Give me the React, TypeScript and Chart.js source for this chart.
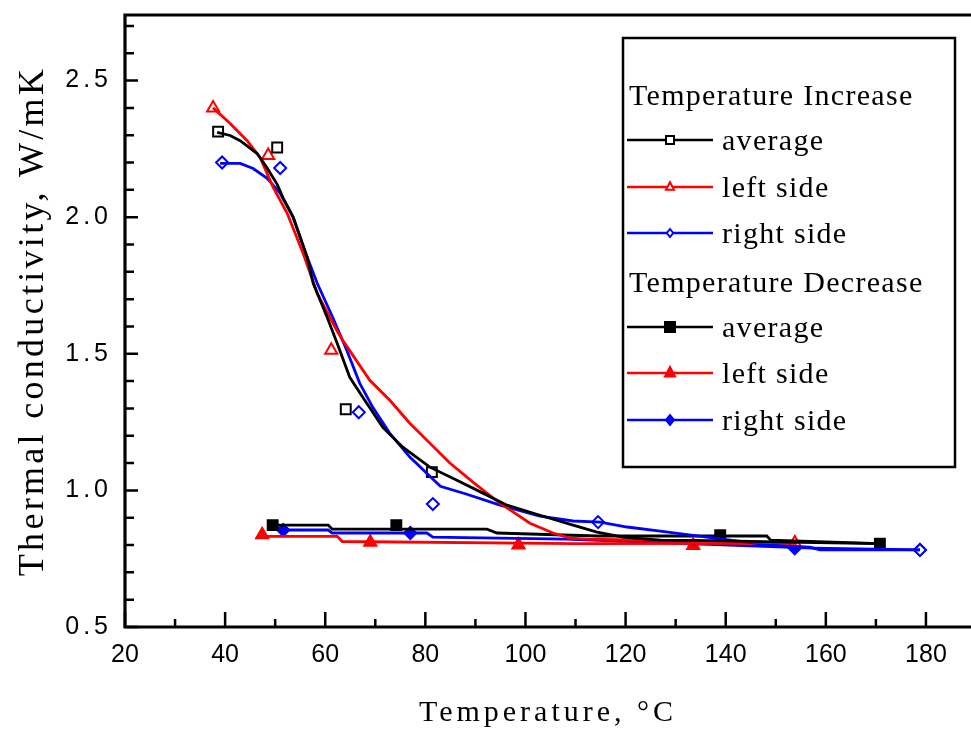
import React, { useEffect, useRef } from 'react';
import { Chart, registerables } from 'chart.js';

Chart.register(...registerables);

// ---------- axis ticks ----------
const xTickValues = [20, 40, 60, 80, 100, 120, 140, 160, 180];
const xMinorTickValues = [30, 50, 70, 90, 110, 130, 150, 170];
const yTickValues = [0.5, 1.0, 1.5, 2.0, 2.5];
const yMinorTickValues = [0.6, 0.7, 0.8, 0.9, 1.1, 1.2, 1.3, 1.4, 1.6, 1.7, 1.8, 1.9, 2.1, 2.2, 2.3, 2.4, 2.6, 2.7];

// ---------- Temperature Increase : fitted curves ----------
const incAvgX = [38.4, 41, 43, 46.4, 48.4, 50.4, 51.6, 53.6, 56.4, 57.6, 60.4, 62.4, 64.9, 67.5, 71.5, 75.5, 80.9, 86.3, 91.5, 96.3, 102.9, 109.5, 114.3, 119.5, 126.9, 140, 155, 170.8];
const incAvgY = [2.31, 2.299, 2.28, 2.233, 2.18, 2.12, 2.07, 2.0, 1.853, 1.758, 1.633, 1.538, 1.414, 1.341, 1.231, 1.158, 1.085, 1.037, 0.99, 0.946, 0.909, 0.873, 0.847, 0.829, 0.818, 0.815, 0.81, 0.805];

const incLeftX = [37.6, 41, 44.4, 47, 49.6, 52.4, 55.6, 58.4, 62.3, 63.5, 68.9, 72.9, 76.9, 80.9, 84.9, 89.5, 94.9, 100.9, 105.5, 108.9, 112.3, 124.9, 138.9, 154.2];
const incLeftY = [2.4, 2.343, 2.28, 2.218, 2.109, 2.014, 1.867, 1.721, 1.586, 1.549, 1.403, 1.33, 1.246, 1.173, 1.1, 1.03, 0.953, 0.88, 0.844, 0.825, 0.822, 0.818, 0.814, 0.807];

const incRightX = [39, 43, 45.6, 48.4, 51, 53.6, 56.4, 58.4, 61.5, 64.3, 66.9, 69.5, 72.9, 76.9, 83, 88.3, 94.9, 102.9, 109.5, 114.9, 120.3, 126.9, 133.5, 140.9, 148.8, 156.8, 158.8, 178.8];
const incRightY = [2.197, 2.197, 2.178, 2.142, 2.087, 1.999, 1.853, 1.758, 1.633, 1.513, 1.392, 1.304, 1.209, 1.122, 1.015, 0.986, 0.946, 0.906, 0.888, 0.884, 0.866, 0.851, 0.835, 0.818, 0.8, 0.792, 0.782, 0.782];

// ---------- Temperature Increase : measured points ----------
const incAvgPtX = [38.6, 50.4, 64.1, 81.3];
const incAvgPtY = [2.313, 2.255, 1.297, 1.067];
const incLeftPtX = [37.6, 48.6, 61.2, 153.8];
const incLeftPtY = [2.4, 2.226, 1.513, 0.807];
const incRightPtX = [39.4, 51, 66.7, 81.5, 114.5, 178.8];
const incRightPtY = [2.2, 2.18, 1.286, 0.95, 0.884, 0.782];

// ---------- Temperature Decrease : fitted curves ----------
const decAvgX = [49.5, 60.6, 61.4, 92.3, 94.3, 114.3, 148.2, 149, 170.8];
const decAvgY = [0.873, 0.873, 0.858, 0.858, 0.844, 0.833, 0.833, 0.818, 0.805];
const decLeftX = [47.4, 62.4, 63.4, 110, 154.2];
const decLeftY = [0.832, 0.832, 0.813, 0.805, 0.806];
const decRightX = [51.6, 60.6, 61.4, 80.3, 81.5, 108, 129.5, 157.4, 178.8];
const decRightY = [0.855, 0.855, 0.844, 0.844, 0.829, 0.822, 0.807, 0.789, 0.782];

// ---------- Temperature Decrease : measured points ----------
const decAvgPtX = [49.5, 74.2, 138.9, 170.8];
const decAvgPtY = [0.873, 0.873, 0.836, 0.805];
const decLeftPtX = [47.4, 69, 98.6, 133.5];
const decLeftPtY = [0.838, 0.81, 0.8, 0.798];
const decRightPtX = [51.6, 77, 153.8, 178.8];
const decRightPtY = [0.855, 0.844, 0.788, 0.782];

const legendHeaders = ['Temperature Increase', 'Temperature Decrease'];
const legendItems = ['average', 'left side', 'right side'];

const BLACK = '#000000';
const RED = '#ff0000';
const BLUE = '#0000ff';

const SERIF = '"Liberation Serif", "Times New Roman", serif';
const SANS = '"Liberation Sans", Arial, sans-serif';

const zip = (xs: number[], ys: number[]) => xs.map((x, i) => ({ x, y: ys[i] }));

const curve = (xs: number[], ys: number[], color: string) => ({
  data: zip(xs, ys),
  showLine: true,
  borderColor: color,
  borderWidth: 2.8,
  pointRadius: 0,
  tension: 0,
  fill: false,
});

const markers = (xs: number[], ys: number[], color: string, style: string, open: boolean, r: number) => ({
  data: zip(xs, ys),
  showLine: false,
  pointStyle: style,
  pointRadius: r,
  borderColor: color,
  borderWidth: 2,
  backgroundColor: open ? '#ffffff' : color,
  pointBackgroundColor: open ? '#ffffff' : color,
  pointBorderColor: color,
});

// letter-spacing wrapper for a scale's drawing method
function spaced(scale: any, method: string, spacing: string) {
  scale[method] = function (area: any) {
    const c = this.ctx;
    c.save();
    c.letterSpacing = spacing;
    Object.getPrototypeOf(this)[method].call(this, area);
    c.restore();
  };
}

function drawMarker(ctx: CanvasRenderingContext2D, kind: string, x: number, y: number, s: number, color: string, open: boolean) {
  ctx.save();
  ctx.beginPath();
  if (kind === 'square') {
    ctx.rect(x - s, y - s, 2 * s, 2 * s);
  } else if (kind === 'triangle') {
    ctx.moveTo(x, y - s * 1.2);
    ctx.lineTo(x + s, y + s * 0.7);
    ctx.lineTo(x - s, y + s * 0.7);
    ctx.closePath();
  } else {
    ctx.moveTo(x, y - s);
    ctx.lineTo(x + s * 0.8, y);
    ctx.lineTo(x, y + s);
    ctx.lineTo(x - s * 0.8, y);
    ctx.closePath();
  }
  ctx.fillStyle = open ? '#ffffff' : color;
  ctx.fill();
  ctx.lineWidth = 2;
  ctx.strokeStyle = color;
  ctx.stroke();
  ctx.restore();
}

const framePlugin = {
  id: 'frameTicks',
  afterDatasetsDraw(chart: any) {
    const { ctx, chartArea, scales } = chart;
    const { left, right, top, bottom } = chartArea;
    const xs = scales.x;
    const ys = scales.y;
    ctx.save();
    ctx.strokeStyle = '#000';
    ctx.lineWidth = 2.5;
    ctx.beginPath();
    xTickValues.forEach((v) => {
      const px = xs.getPixelForValue(v);
      ctx.moveTo(px, bottom);
      ctx.lineTo(px, bottom - 15);
    });
    xMinorTickValues.forEach((v) => {
      const px = xs.getPixelForValue(v);
      ctx.moveTo(px, bottom);
      ctx.lineTo(px, bottom - 8);
    });
    yTickValues.forEach((v) => {
      const py = ys.getPixelForValue(v);
      ctx.moveTo(left, py);
      ctx.lineTo(left + 13, py);
    });
    yMinorTickValues.forEach((v) => {
      const py = ys.getPixelForValue(v);
      ctx.moveTo(left, py);
      ctx.lineTo(left + 9, py);
    });
    ctx.stroke();
    ctx.lineWidth = 3.2;
    ctx.beginPath();
    ctx.moveTo(right + 2, top);
    ctx.lineTo(left, top);
    ctx.lineTo(left, bottom);
    ctx.lineTo(right + 2, bottom);
    ctx.stroke();
    ctx.restore();
  },
};

const legendPlugin = {
  id: 'boxLegend',
  afterDraw(chart: any) {
    const { ctx } = chart;
    const bx = 623, by = 38, bw = 332, bh = 429;
    ctx.save();
    ctx.lineWidth = 2.5;
    ctx.strokeStyle = '#000';
    ctx.strokeRect(bx, by, bw, bh);
    ctx.fillStyle = '#000';
    ctx.font = '30px ' + SERIF;
    (ctx as any).letterSpacing = '1.3px';
    ctx.textAlign = 'left';
    ctx.textBaseline = 'alphabetic';
    const colors = [BLACK, RED, BLUE];
    const kinds = ['square', 'triangle', 'diamond'];
    const groups = [
      { header: legendHeaders[0], hy: 105, rows: [150, 197, 243], open: true, size: 4 },
      { header: legendHeaders[1], hy: 292, rows: [337, 383, 430], open: false, size: 5 },
    ];
    groups.forEach((g) => {
      ctx.fillStyle = '#000';
      ctx.fillText(g.header, bx + 6, g.hy);
      g.rows.forEach((base, i) => {
        const ly = base - 10;
        ctx.strokeStyle = colors[i];
        ctx.lineWidth = 2.5;
        ctx.beginPath();
        ctx.moveTo(bx + 4, ly);
        ctx.lineTo(bx + 90, ly);
        ctx.stroke();
        drawMarker(ctx, kinds[i], bx + 47, ly, g.size, colors[i], g.open);
        ctx.fillStyle = '#000';
        ctx.fillText(legendItems[i], bx + 99, base);
      });
    });
    ctx.restore();
  },
};

export default function App() {
  const canvasRef = useRef<HTMLCanvasElement | null>(null);

  useEffect(() => {
    const canvas = canvasRef.current;
    if (!canvas) return;
    const chart = new Chart(canvas, {
      type: 'scatter',
      data: {
        datasets: [
          curve(incAvgX, incAvgY, BLACK),
          curve(incLeftX, incLeftY, RED),
          curve(incRightX, incRightY, BLUE),
          curve(decAvgX, decAvgY, BLACK),
          curve(decLeftX, decLeftY, RED),
          curve(decRightX, decRightY, BLUE),
          markers(incAvgPtX, incAvgPtY, BLACK, 'rect', true, 7),
          markers(incLeftPtX, incLeftPtY, RED, 'triangle', true, 7),
          markers(incRightPtX, incRightPtY, BLUE, 'rectRot', true, 6),
          markers(decAvgPtX, decAvgPtY, BLACK, 'rect', false, 7),
          markers(decLeftPtX, decLeftPtY, RED, 'triangle', false, 7),
          markers(decRightPtX, decRightPtY, BLUE, 'rectRot', false, 6),
        ] as any,
      },
      options: {
        animation: false,
        responsive: false,
        maintainAspectRatio: false,
        layout: { autoPadding: false, padding: { top: 15, right: 0, left: 0, bottom: 0 } },
        plugins: { legend: { display: false }, tooltip: { enabled: false } },
        scales: {
          x: {
            type: 'linear',
            min: 20,
            max: 189,
            afterFit: (s: any) => {
              s.height = 104;
              s.paddingLeft = 0;
              s.paddingRight = 0;
              spaced(s, 'drawTitle', '4px');
            },
            afterBuildTicks: (s: any) => { s.ticks = xTickValues.map((v) => ({ value: v })); },
            grid: { display: false, drawTicks: false },
            border: { display: false },
            ticks: {
              padding: 13,
              color: '#000',
              maxRotation: 0,
              autoSkip: false,
              font: { family: SANS, size: 25 },
              callback: (v: any) => String(v),
            },
            title: {
              display: true,
              text: 'Temperature, °C',
              color: '#000',
              font: { family: SERIF, size: 30 },
              padding: { top: 0, bottom: 0 },
            },
          },
          y: {
            type: 'linear',
            min: 0.5,
            max: 2.74,
            afterFit: (s: any) => {
              s.width = 125;
              s.paddingTop = 0;
              s.paddingBottom = 0;
              spaced(s, 'drawLabels', '4px');
              spaced(s, 'drawTitle', '3.3px');
            },
            afterBuildTicks: (s: any) => { s.ticks = yTickValues.map((v) => ({ value: v })); },
            grid: { display: false, drawTicks: false },
            border: { display: false },
            ticks: {
              padding: 13,
              color: '#000',
              autoSkip: false,
              font: { family: SANS, size: 25 },
              callback: (v: any) => Number(v).toFixed(1),
            },
            title: {
              display: true,
              text: 'Thermal conductivity, W/mK',
              color: '#000',
              font: { family: SERIF, size: 36 },
              padding: { top: 12, bottom: 0 },
            },
          },
        },
      } as any,
      plugins: [framePlugin, legendPlugin],
    });
    return () => chart.destroy();
  }, []);

  return (
    <div style={{ position: 'fixed', left: 0, top: 0, width: 971, height: 731, background: '#fff' }}>
      <canvas ref={canvasRef} width={971} height={731} style={{ display: 'block', width: 971, height: 731 }} />
    </div>
  );
}
